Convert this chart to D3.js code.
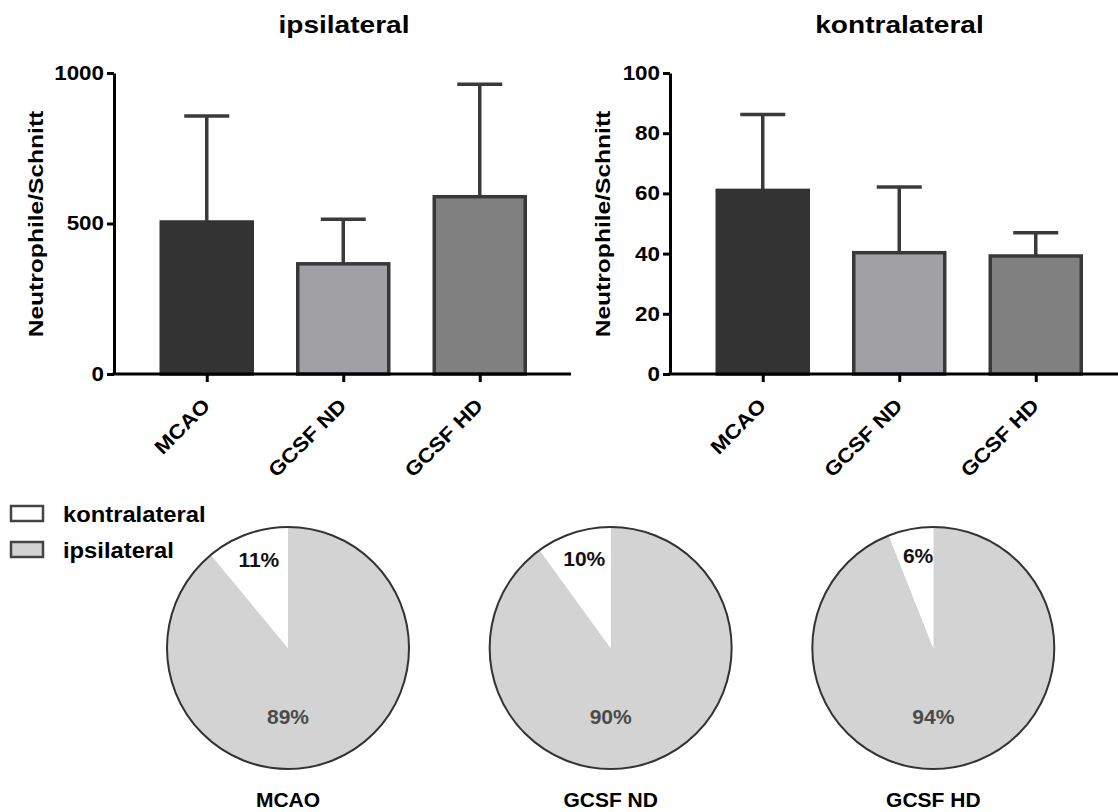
<!DOCTYPE html>
<html>
<head>
<meta charset="utf-8">
<script src="https://cdn.jsdelivr.net/npm/d3@7"></script>
<style>
  html, body { margin: 0; padding: 0; background: #fff; }
  svg { display: block; font-family: "Liberation Sans", Arial, Helvetica, sans-serif; }
</style>
</head>
<body>
<svg id="fig" width="1118" height="812"></svg>
<script>
// Groups shown on every panel
const groups = ["MCAO", "GCSF ND", "GCSF HD"];

// Neutrophils per section, ipsilateral hemisphere (mean and SD)
const ipsiMean = [505, 366, 589];
const ipsiSD   = [352, 148, 374];

// Neutrophils per section, contralateral hemisphere (mean and SD)
const kontraMean = [61, 40.3, 39.2];
const kontraSD   = [25.2, 21.8, 7.7];

// Share of neutrophils per hemisphere, in percent
const kontraPct = [11, 10, 6];
const ipsiPct   = [89, 90, 94];

// Axis ticks
const ipsiTicks   = [0, 500, 1000];
const kontraTicks = [0, 20, 40, 60, 80, 100];

const barFill   = ["#333333", "#a1a0a5", "#808080"];
const barStroke = ["#333333", "#383838", "#383838"];
const ink = "#3a3a3a";

const svg = d3.select("#fig");

// Stretch a text element along its own direction
function stretch(sel, k) {
  sel.each(function () {
    const L = this.getComputedTextLength();
    this.setAttribute("textLength", L * k);
    this.setAttribute("lengthAdjust", "spacingAndGlyphs");
  });
}

function barPanel(opt) {
  const g = svg.append("g");
  const y = d3.scaleLinear().domain(opt.domain).range([374, 73]);
  const x = d3.scalePoint().domain(groups).range([opt.axisX + 24.5, opt.axisX + 24.5 + 3 * 136.5]).padding(0.5);
  const barW = 91;

  // title
  const t = g.append("text")
    .attr("x", opt.titleX).attr("y", 33)
    .attr("text-anchor", "middle")
    .attr("font-size", 24).attr("font-weight", "bold")
    .attr("fill", "#000")
    .text(opt.title);
  stretch(t, 1.17);

  // error bars (upper only)
  const eb = g.append("g").attr("stroke", ink).attr("stroke-width", 3.5);
  groups.forEach((c, i) => {
    const top = opt.mean[i] + opt.sd[i];
    eb.append("line")
      .attr("x1", x(c)).attr("x2", x(c))
      .attr("y1", y(opt.mean[i])).attr("y2", y(top));
    eb.append("line")
      .attr("x1", x(c) - 22.5).attr("x2", x(c) + 22.5)
      .attr("y1", y(top)).attr("y2", y(top));
  });

  // bars
  g.append("g").selectAll("rect")
    .data(groups)
    .join("rect")
    .attr("x", c => x(c) - barW / 2)
    .attr("width", barW)
    .attr("y", (c, i) => y(opt.mean[i]))
    .attr("height", (c, i) => y(0) - y(opt.mean[i]))
    .attr("fill", (c, i) => barFill[i])
    .attr("stroke", (c, i) => barStroke[i])
    .attr("stroke-width", 3.5);

  // y axis
  const ya = g.append("g")
    .attr("transform", `translate(${opt.axisX},0)`)
    .call(d3.axisLeft(y).tickValues(opt.ticks).tickFormat(d3.format("d"))
      .tickSize(7).tickSizeOuter(0).tickPadding(3))
    .attr("font-size", 20).attr("font-family", null).attr("font-weight", "bold");
  ya.select(".domain").attr("stroke", "#000").attr("stroke-width", 3);
  ya.selectAll(".tick line").attr("stroke", "#000").attr("stroke-width", 3);
  const yl = ya.selectAll(".tick text").attr("fill", "#000");
  stretch(yl, 1.12);

  // x axis
  g.append("line")
    .attr("x1", opt.axisX - 1.5).attr("x2", opt.axisEnd)
    .attr("y1", y(0)).attr("y2", y(0))
    .attr("stroke", "#000").attr("stroke-width", 3);
  const xa = g.append("g")
    .attr("transform", `translate(0,${y(0)})`)
    .call(d3.axisBottom(x).tickSize(8).tickSizeOuter(0))
    .attr("font-size", 20).attr("font-family", null).attr("font-weight", "bold");
  xa.select(".domain").remove();
  xa.selectAll(".tick line").attr("stroke", "#000").attr("stroke-width", 3);
  const xl = xa.selectAll(".tick text")
    .attr("fill", "#000")
    .attr("text-anchor", "end")
    .attr("dy", null).attr("y", null)
    .attr("transform", "translate(4,33) rotate(-45)");
  stretch(xl, 1.12);

  // y axis title
  const yt = g.append("text")
    .attr("transform", `translate(${opt.yTitleX},224) rotate(-90)`)
    .attr("text-anchor", "middle")
    .attr("font-size", 21).attr("font-weight", "bold").attr("fill", "#000")
    .text("Neutrophile/Schnitt");
  stretch(yt, 1.17);
}

barPanel({ title: "ipsilateral", titleX: 344, axisX: 114, axisEnd: 571, yTitleX: 43,
  domain: [0, 1000], ticks: ipsiTicks, mean: ipsiMean, sd: ipsiSD });
barPanel({ title: "kontralateral", titleX: 899.5, axisX: 670, axisEnd: 1118, yTitleX: 610,
  domain: [0, 100], ticks: kontraTicks, mean: kontraMean, sd: kontraSD });

// Pie charts: share of contralateral vs ipsilateral neutrophils
const pieR = 121;
const pieX = d3.scalePoint().domain(groups).range([288, 933.3]);
const pieY = 648;
const pie = d3.pie().sort(null).value(d => d.v);
const arc = d3.arc().innerRadius(0).outerRadius(pieR);
const labelArc = d3.arc().innerRadius(92).outerRadius(92);

groups.forEach((c, i) => {
  const g = svg.append("g").attr("transform", `translate(${pieX(c)},${pieY})`);
  const slices = pie([{ k: "ipsi", v: ipsiPct[i] }, { k: "kontra", v: kontraPct[i] }]);
  g.selectAll("path.slice")
    .data(slices)
    .join("path")
    .attr("class", "slice")
    .attr("d", arc)
    .attr("fill", d => d.data.k === "ipsi" ? "#d3d3d3" : "#ffffff");
  g.append("circle").attr("r", pieR).attr("fill", "none").attr("stroke", "#333").attr("stroke-width", 2);

  const small = slices[1];
  const [lx, ly] = labelArc.centroid(small);
  g.append("text")
    .attr("x", lx + 2).attr("y", ly - 2).attr("dy", "0.35em")
    .attr("text-anchor", "middle")
    .attr("font-size", 21).attr("font-weight", "bold").attr("fill", "#111")
    .text(kontraPct[i] + "%");
  g.append("text")
    .attr("x", 0).attr("y", pieR * 0.566).attr("dy", "0.35em")
    .attr("text-anchor", "middle")
    .attr("font-size", 21).attr("font-weight", "bold").attr("fill", "#4a4a4a")
    .text(ipsiPct[i] + "%");

  svg.append("text")
    .attr("x", pieX(c)).attr("y", 807)
    .attr("text-anchor", "middle")
    .attr("font-size", 21).attr("font-weight", "bold").attr("fill", "#000")
    .text(c);
});

// Legend
const legend = [{ label: "kontralateral", fill: "#ffffff" }, { label: "ipsilateral", fill: "#d3d3d3" }];
const lg = svg.append("g");
legend.forEach((d, i) => {
  const yy = 506 + i * 36;
  lg.append("rect").attr("x", 11).attr("y", yy).attr("width", 32).attr("height", 15)
    .attr("fill", d.fill).attr("stroke", "#444").attr("stroke-width", 2.5);
  const t = lg.append("text").attr("x", 63).attr("y", yy + 15.5)
    .attr("font-size", 22).attr("font-weight", "bold").attr("fill", "#000")
    .text(d.label);
  stretch(t, 1.08);
});
</script>
</body>
</html>
